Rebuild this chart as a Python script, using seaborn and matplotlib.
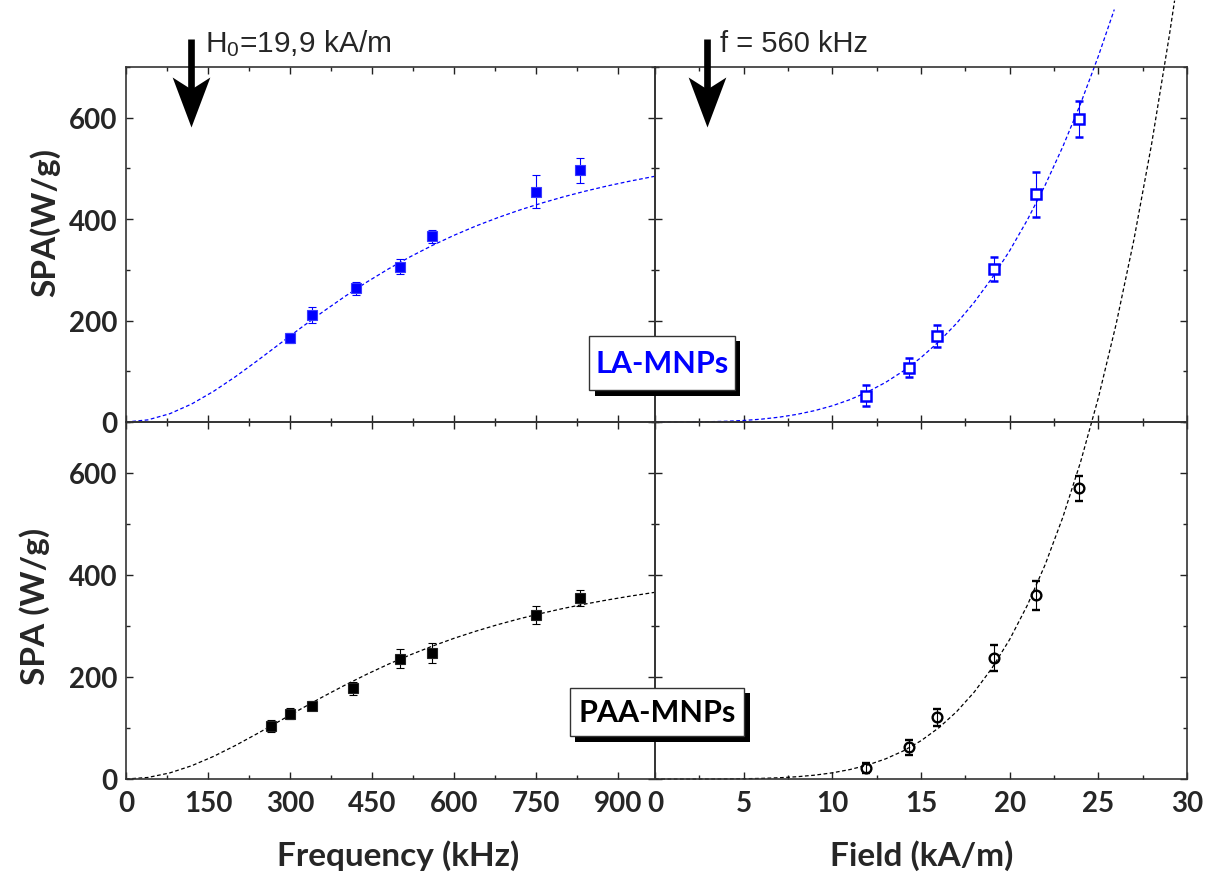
import matplotlib
matplotlib.use("Agg")
import matplotlib.pyplot as plt
import matplotlib.patheffects as pe
from matplotlib.path import Path
from matplotlib.ticker import MultipleLocator
import seaborn as sns

# ---------------- data ----------------
la_freq = [300, 340, 420, 500, 560, 750, 830]
la_freq_spa = [165, 211, 264, 306, 366, 454, 496]
la_freq_err = [10, 15, 13, 15, 13, 33, 25]

paa_freq = [265, 300, 340, 415, 500, 560, 750, 830]
paa_freq_spa = [104, 128, 144, 178, 236, 247, 321, 355]
paa_freq_err = [11, 11, 9, 13, 18, 19, 18, 16]

la_field = [11.9, 14.3, 15.9, 19.1, 21.5, 23.9]
la_field_spa = [52, 107, 169, 302, 449, 597]
la_field_err = [21, 19, 22, 24, 44, 35]

paa_field = [11.9, 14.3, 15.9, 19.1, 21.5, 23.9]
paa_field_spa = [21, 62, 121, 237, 360, 570]
paa_field_err = [10, 15, 17, 26, 28, 24]

# fitted curves
fit_freq_x = [0, 40, 80, 120, 160, 200, 240, 280, 320, 360, 400, 440, 480,
              520, 560, 600, 640, 680, 720, 760, 800, 840, 880, 920, 966]
la_fit_freq_y = [0, 4.2, 16.3, 35.5, 60.4, 89.3, 120.8, 153.4, 185.9, 217.4,
                 247.5, 275.8, 302.0, 326.1, 348.2, 368.3, 386.6, 403.1, 418.1,
                 431.7, 444.1, 455.3, 465.5, 474.7, 484.4]
paa_fit_freq_y = [0, 3.0, 11.9, 26.0, 44.3, 65.7, 89.0, 113.2, 137.5, 161.3,
                  183.9, 205.3, 225.3, 243.6, 260.5, 276.0, 290.0, 302.8, 314.4,
                  324.9, 334.6, 343.2, 351.1, 358.3, 365.9]

la_fit_field_x = [0, 1, 2, 3, 4, 5, 6, 7, 8, 9, 10, 11, 12, 13, 14, 15, 16,
                  17, 18, 19, 20, 21, 22, 23, 24, 25, 25.9]
la_fit_field_y = [0, 0.01, 0.13, 0.53, 1.42, 3.03, 5.6, 9.5, 15.0, 22.4, 32.0,
                  44.2, 59.5, 78.0, 100.5, 127.0, 158.2, 194.3, 236.0, 283.6,
                  337.7, 398.7, 466.9, 543.2, 627.8, 721.3, 813.3]

paa_fit_field_x = [0, 1, 2, 3, 4, 5, 6, 7, 8, 9, 10, 11, 12, 13, 14, 15, 16,
                   17, 18, 19, 20, 21, 22, 23, 24, 25, 26, 27, 28, 29, 29.3]
paa_fit_field_y = [0, 0, 0.01, 0.05, 0.2, 0.53, 1.21, 2.43, 4.43, 7.5, 12.1,
                   18.6, 27.5, 39.4, 55.0, 75.0, 100.3, 131.7, 170.4, 217.3,
                   273.6, 340.9, 420.2, 513.4, 621.8, 747.2, 891.4, 1056.2,
                   1244.2, 1457.1, 1526.2]

freq_ticks_step = 150
field_ticks_step = 5
spa_ticks_step = 200

# ---------------- style ----------------
sns.set_theme(style="ticks")
plt.rcParams["font.family"] = ["Lato", "DejaVu Sans"]
plt.rcParams["font.weight"] = "bold"
plt.rcParams["mathtext.fontset"] = "custom"
plt.rcParams["mathtext.rm"] = "Liberation Sans:normal"
plt.rcParams["mathtext.it"] = "Liberation Sans:italic:normal"
plt.rcParams["mathtext.bf"] = "Liberation Sans:normal"

BLUE = "#0000ff"
W, H = 1209, 878
fig = plt.figure(figsize=(12.09, 8.78), dpi=100)
fig.patch.set_facecolor("white")


def rect(x0, y0, x1, y1):
    return [x0 / W, 1 - y1 / H, (x1 - x0) / W, (y1 - y0) / H]


ax_tl = fig.add_axes(rect(126, 68, 655, 423))
ax_tr = fig.add_axes(rect(655, 68, 1187, 423))
ax_bl = fig.add_axes(rect(126, 423, 655, 780))
ax_br = fig.add_axes(rect(655, 423, 1187, 780))


def style(ax, xmax, xstep, show_x, show_y):
    ax.set_facecolor("none")
    ax.set_xlim(0, xmax)
    ax.set_ylim(0, 700)
    ax.xaxis.set_major_locator(MultipleLocator(xstep))
    ax.xaxis.set_minor_locator(MultipleLocator(xstep / 2))
    ax.yaxis.set_major_locator(MultipleLocator(spa_ticks_step))
    ax.yaxis.set_minor_locator(MultipleLocator(spa_ticks_step / 2))
    ax.tick_params(which="both", direction="in", top=True, right=True,
                   bottom=True, left=True, color="#222222")
    ax.tick_params(which="major", length=5, width=1.0)
    ax.tick_params(which="minor", length=2.6, width=1.0)
    ax.tick_params(axis="x", labelbottom=show_x, labelsize=20, pad=8)
    ax.tick_params(axis="y", labelleft=show_y, labelsize=20, pad=6)
    for lab in ax.get_xticklabels() + ax.get_yticklabels():
        lab.set_fontweight("bold")
    for s in ax.spines.values():
        s.set_linewidth(1.2)
        s.set_color("#333333")


style(ax_tl, 967, freq_ticks_step, False, True)
style(ax_bl, 967, freq_ticks_step, True, True)
style(ax_tr, 30, field_ticks_step, False, False)
style(ax_br, 30, field_ticks_step, True, False)

dash = (0, (3, 2))
sns.lineplot(x=fit_freq_x, y=la_fit_freq_y, ax=ax_tl, color=BLUE, lw=0.9,
             linestyle=dash, clip_on=False, zorder=2)
sns.lineplot(x=fit_freq_x, y=paa_fit_freq_y, ax=ax_bl, color="black", lw=0.9,
             linestyle=dash, clip_on=False, zorder=2)
sns.lineplot(x=la_fit_field_x, y=la_fit_field_y, ax=ax_tr, color=BLUE, lw=0.9,
             linestyle=dash, clip_on=False, zorder=2)
sns.lineplot(x=paa_fit_field_x, y=paa_fit_field_y, ax=ax_br, color="black",
             lw=0.9, linestyle=dash, clip_on=False, zorder=2)

ax_tl.errorbar(la_freq, la_freq_spa, yerr=la_freq_err, fmt="s", ms=6.5,
               mfc=BLUE, mec="#3a3aff", mew=0.8, ecolor=BLUE, elinewidth=0.8,
               capsize=3, capthick=0.8, zorder=3)
ax_bl.errorbar(paa_freq, paa_freq_spa, yerr=paa_freq_err, fmt="s", ms=6.5,
               mfc="black", mec="#222222", mew=0.8, ecolor="black",
               elinewidth=0.8, capsize=3, capthick=0.8, zorder=3)
ax_tr.errorbar(la_field, la_field_spa, yerr=la_field_err, fmt="s", ms=6.6,
               mfc="white", mec=BLUE, mew=1.8, ecolor=BLUE, elinewidth=0.8,
               capsize=3, capthick=0.8, zorder=3)
ax_br.errorbar(paa_field, paa_field_spa, yerr=paa_field_err, fmt="o", ms=7.0,
               mfc="none", mec="black", mew=1.7, ecolor="black",
               elinewidth=0.8, capsize=3, capthick=0.8, zorder=3)

for ax in (ax_tl, ax_tr, ax_bl, ax_br):
    ax.set_xlabel("")
    ax.set_ylabel("")

# axis labels
ax_tl.set_ylabel("SPA(W/g)", fontsize=24, fontweight="bold", va="center",
                 ha="center")
ax_tl.yaxis.set_label_coords(-0.153, 0.566)
ax_bl.set_ylabel("SPA (W/g)", fontsize=24, fontweight="bold", va="center",
                 ha="center")
ax_bl.yaxis.set_label_coords(-0.172, 0.485)
ax_bl.set_xlabel("Frequency (kHz)", fontsize=24, fontweight="bold",
                 va="center")
ax_bl.xaxis.set_label_coords(0.514, -0.213)
ax_br.set_xlabel("Field (kA/m)", fontsize=24, fontweight="bold", va="center")
ax_br.xaxis.set_label_coords(0.502, -0.213)

# arrows
head = Path([(0, 0), (18.85, 50), (0, 38), (-18.85, 50), (0, 0)],
            [Path.MOVETO, Path.LINETO, Path.LINETO, Path.LINETO,
             Path.CLOSEPOLY])
arrow_tip_y, arrow_tail_y, arrow_mid_y = 582, 755, 630
for ax, xa in ((ax_tl, 119), (ax_tr, 2.93)):
    ax.plot([xa, xa], [arrow_tail_y, arrow_mid_y], color="black", lw=4.8,
            solid_capstyle="butt", clip_on=False, zorder=5)
    ax.plot([xa], [arrow_tip_y], marker=head, ms=72, color="black", mew=0,
            clip_on=False, zorder=5)

ax_tl.text(144, 732, r"H$_\mathrm{0}$=19,9 kA/m", fontsize=21.5,
           fontweight="normal", family=["Liberation Sans", "DejaVu Sans"],
           ha="left", va="baseline", clip_on=False)
ax_tr.text(3.67, 731, "f = 560 kHz", fontsize=21, fontweight="normal",
           family=["Liberation Sans", "DejaVu Sans"], ha="left",
           va="baseline", clip_on=False)

# sample boxes with shadow
for label, color, cx, cy, pad, asp in (("LA-MNPs", BLUE, 662, 364, 0.2, 2.2),
                                       ("PAA-MNPs", "black", 657, 713, 0.28,
                                        1.2)):
    t = fig.text(cx / W, 1 - cy / H, label, color=color, fontsize=22,
                 fontweight="bold", ha="center", va="center", zorder=10,
                 bbox=dict(boxstyle=f"square,pad={pad}", fc="white",
                           ec="#333333", lw=1.0, mutation_aspect=asp))
    t.get_bbox_patch().set_path_effects([
        pe.SimplePatchShadow(offset=(4, -4), shadow_rgbFace="black", alpha=1),
        pe.Normal()])

fig.savefig("out.png", dpi=100, facecolor="white")
